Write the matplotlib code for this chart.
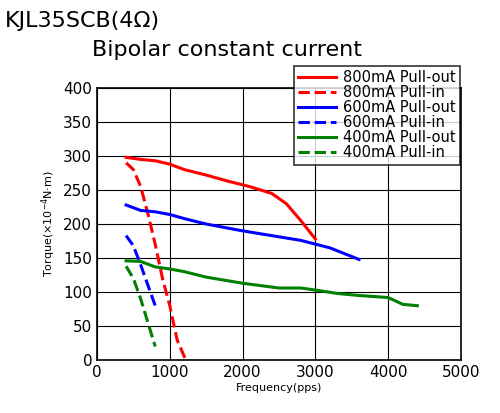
import matplotlib.pyplot as plt

# данные
x_800_out = [400, 600, 800, 1000, 1200, 1500, 1800, 2100, 2400, 2600, 2800, 3000]
y_800_out = [298, 295, 293, 288, 280, 272, 263, 255, 245, 230, 205, 178]
x_800_in = [400, 500, 600, 700, 800, 900, 1000, 1100, 1220]
y_800_in = [290, 280, 255, 215, 170, 120, 80, 30, 0]
x_600_out = [400, 600, 800, 1000, 1200, 1500, 2000, 2400, 2800, 3200, 3600]
y_600_out = [228, 220, 218, 214, 208, 200, 190, 183, 176, 165, 148]
x_600_in = [400, 500, 600, 700, 800]
y_600_in = [183, 168, 140, 110, 80]
x_400_out = [400, 600, 800, 1000, 1200, 1500, 2000, 2500, 2800, 3000, 3300, 3600, 4000, 4200, 4400]
y_400_out = [146, 145, 137, 134, 130, 122, 113, 106, 106, 103, 98, 95, 92, 82, 80]
x_400_in = [400, 500, 600, 700, 800]
y_400_in = [138, 120, 90, 55, 20]

fig = plt.figure(figsize=(5, 4.13), dpi=100)
ax = fig.add_axes([0.194, 0.128, 0.728, 0.659])

ax.plot(x_800_out, y_800_out, color="red", lw=2.2, label="800mA Pull-out")
ax.plot(x_800_in, y_800_in, color="red", lw=2.2, ls="--", label="800mA Pull-in")
ax.plot(x_600_out, y_600_out, color="blue", lw=2.2, label="600mA Pull-out")
ax.plot(x_600_in, y_600_in, color="blue", lw=2.2, ls="--", label="600mA Pull-in")
ax.plot(x_400_out, y_400_out, color="green", lw=2.2, label="400mA Pull-out")
ax.plot(x_400_in, y_400_in, color="green", lw=2.2, ls="--", label="400mA Pull-in")

ax.set_xlim(0, 5000)
ax.set_ylim(0, 400)
ax.set_xticks(range(0, 5001, 1000))
ax.set_yticks(range(0, 401, 50))
ax.grid(True, color="black", lw=0.8)
ax.tick_params(labelsize=11, length=0)
for s in ax.spines.values():
    s.set_linewidth(1.2)
ax.set_xlabel("Frequency(pps)", fontsize=8, labelpad=2)
ax.set_ylabel("Torque(×10$^{-4}$N·m)", fontsize=8)

fig.text(0.01, 0.935, "KJL35SCB(4Ω)", fontsize=16)
fig.text(0.185, 0.865, "Bipolar constant current", fontsize=16)

leg = fig.legend(loc="upper right", bbox_to_anchor=(0.935, 0.858), fontsize=10.5,
                 frameon=True, fancybox=False, edgecolor="black",
                 handlelength=2.6, handletextpad=0.5, labelspacing=0.0, borderpad=0.3)
leg.get_frame().set_linewidth(1.2)

fig.savefig("out.png")
